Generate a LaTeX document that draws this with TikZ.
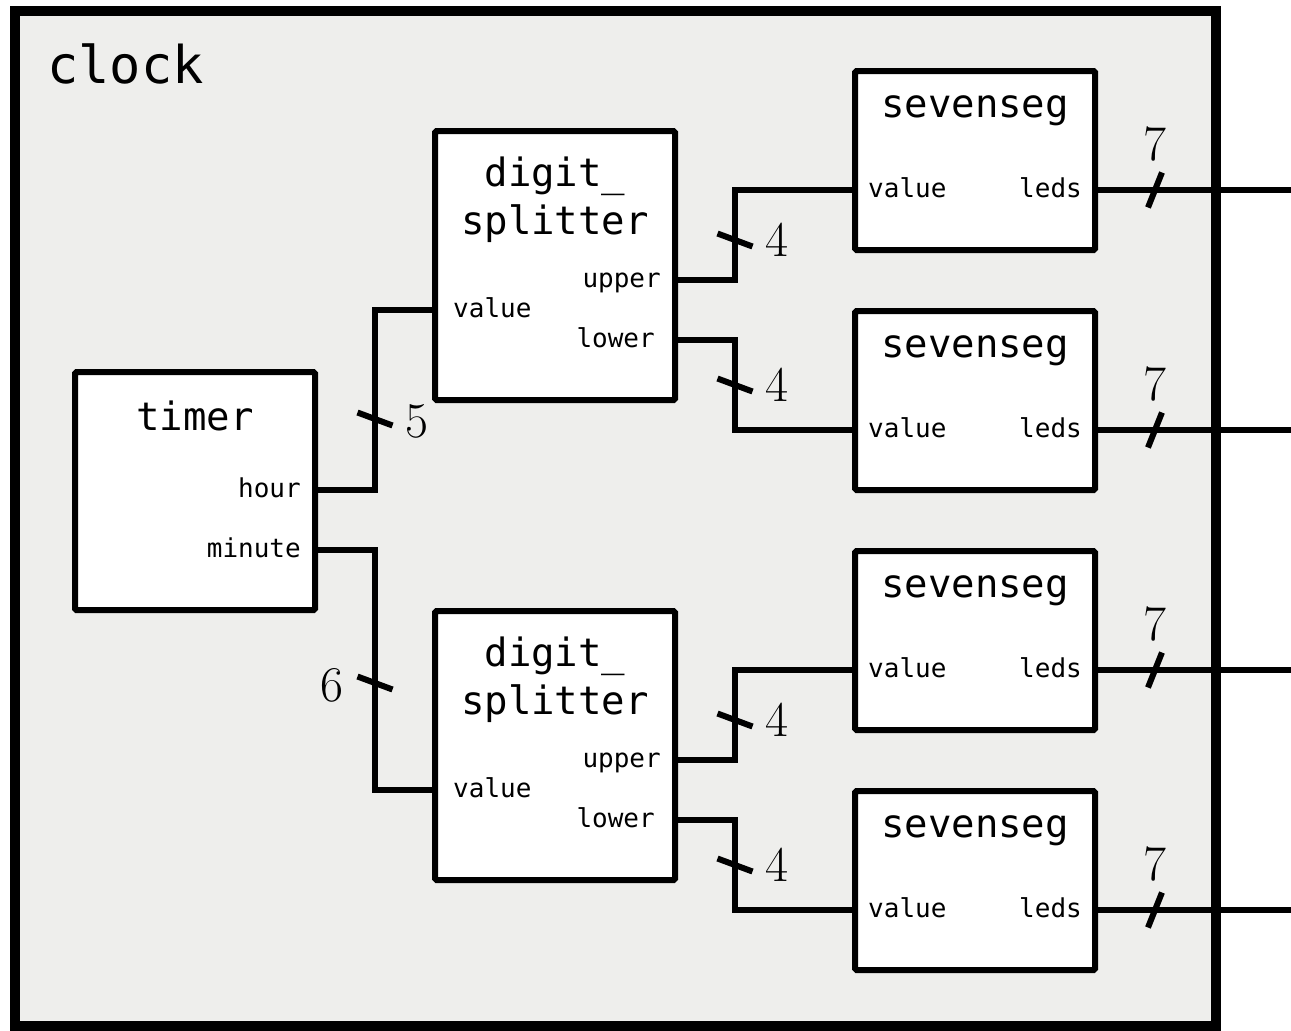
\documentclass[tikz,border=0pt]{standalone}
\usepackage{fontspec}
\newfontfamily\mono{DejaVu Sans Mono}
\definecolor{bgcol}{RGB}{238,238,236}
\tikzset{
  box/.style={draw, fill=white, line width=6pt, rounded corners=1.5pt, inner sep=0pt,
              minimum width=240pt, minimum height=#1},
  box/.default=180pt,
  titletext/.style={font=\mono\fontsize{39}{48}\selectfont, inner sep=0pt},
  porttext/.style={font=\mono\fontsize{26}{30}\selectfont, inner sep=0pt},
  clocktext/.style={font=\mono\fontsize{52}{60}\selectfont, inner sep=0pt},
  numtext/.style={font=\fontsize{50}{50}\selectfont, inner sep=0pt, anchor=base},
  wire/.style={draw, line width=6pt, line join=miter},
  buswidth/.style={draw, line width=6pt},
}
\begin{document}
\begin{tikzpicture}[x=1pt,y=-1pt]
\useasboundingbox (0,0) rectangle (1291,1031);
% outer module
\draw[line width=10pt, fill=bgcol] (15,11) rectangle (1215.5,1026);
\node[clocktext, anchor=base west] (clocklbl) at (47,83) {clock};

% timer
\node[box=238pt] (timer) at (195,491) {};
\node[titletext, anchor=base] (timerT) at (195,430) {timer};
\node[porttext, anchor=base east] (timerHourL) at (301,497) {hour};
\node[porttext, anchor=base east] (timerMinL) at (301,557) {minute};
\coordinate (timerHour) at (315,490);
\coordinate (timerMin) at (315,550);

% digit splitters
\foreach \n/\y in {1/0,2/480}{
  \node[box=269pt] (ds\n) at (555,265.5+\y) {};
  \node[titletext, anchor=base] (ds\n Ta) at (555,186+\y) {digit\_};
  \node[titletext, anchor=base] (ds\n Tb) at (555,234+\y) {splitter};
  \node[porttext, anchor=base west] (ds\n ValL) at (453,317+\y) {value};
  \node[porttext, anchor=base east] (ds\n UpL) at (661,287+\y) {upper};
  \node[porttext, anchor=base east] (ds\n LoL) at (655,347+\y) {lower};
  \coordinate (ds\n Val) at (435,310+\y);
  \coordinate (ds\n Up) at (675,280+\y);
  \coordinate (ds\n Lo) at (675,340+\y);
}

% seven segment drivers
\foreach \n/\y in {1/0,2/240,3/480,4/720}{
  \node[box=179pt] (ss\n) at (975,160.5+\y) {};
  \node[titletext, anchor=base] (ss\n T) at (975,117+\y) {sevenseg};
  \node[porttext, anchor=base west] (ss\n ValL) at (868,197+\y) {value};
  \node[porttext, anchor=base east] (ss\n LedL) at (1082,197+\y) {leds};
  \coordinate (ss\n Val) at (855,190+\y);
  \coordinate (ss\n Led) at (1095,190+\y);
  \coordinate (out\n) at (1291,190+\y);
  \draw[wire] (ss\n Led) -- (out\n);
  \coordinate (ss\n Mark) at (1155,190+\y);
  \draw[buswidth] ([shift={(7,-17.5)}]ss\n Mark) -- ([shift={(-7,17.5)}]ss\n Mark);
  \node[numtext] (ss\n Num) at (1155,160+\y) {7};
}

% wires timer -> splitters
\draw[wire] (timerHour) -- ++(60,0) |- (ds1Val);
\draw[wire] (timerMin) -- ++(60,0) |- (ds2Val);
\coordinate (hourMark) at (375,419);
\coordinate (minMark) at (375,683);
\draw[buswidth] ([shift={(-17.5,-6.5)}]hourMark) -- ([shift={(17.5,6.5)}]hourMark);
\draw[buswidth] ([shift={(-17.5,-6.5)}]minMark) -- ([shift={(17.5,6.5)}]minMark);
\node[numtext] (hourNum) at (416.5,437) {5};
\node[numtext] (minNum) at (332,701) {6};

% wires splitters -> sevensegs
\draw[wire] (ds1Up) -- ++(60,0) |- (ss1Val);
\draw[wire] (ds1Lo) -- ++(60,0) |- (ss2Val);
\draw[wire] (ds2Up) -- ++(60,0) |- (ss3Val);
\draw[wire] (ds2Lo) -- ++(60,0) |- (ss4Val);
\foreach \m/\y in {a/240,b/385,c/720,d/865}{
  \coordinate (mark\m) at (735,\y);
  \draw[buswidth] ([shift={(-17.5,-6.5)}]mark\m) -- ([shift={(17.5,6.5)}]mark\m);
  \node[numtext] (num\m) at (776.5,\y+16) {4};
}
\end{tikzpicture}
\end{document}
